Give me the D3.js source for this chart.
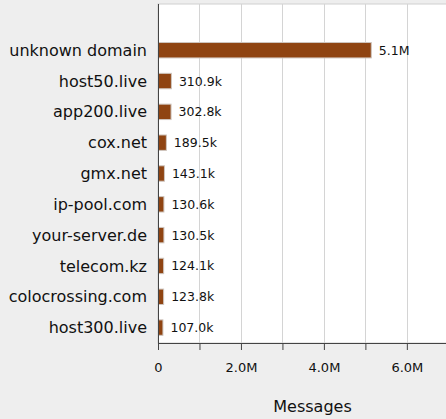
<!DOCTYPE html>
<html><head><meta charset="utf-8">
<script src="https://cdn.jsdelivr.net/npm/d3@7"></script>
<style>
html,body{margin:0;padding:0;background:#eeeeee;overflow:hidden;}
svg{display:block;font-family:"DejaVu Sans",sans-serif;}
</style></head>
<body>
<svg id="c" width="446" height="419"></svg>
<script>
const categories = ["unknown domain","host50.live","app200.live","cox.net","gmx.net","ip-pool.com","your-server.de","telecom.kz","colocrossing.com","host300.live"];
const values = [5130000,310900,302800,189500,143100,130600,130500,124100,123800,107000];
const tickValues = [0,1e6,2e6,3e6,4e6,5e6,6e6,7e6];
const tickLabels = ["0","","2.0M","","4.0M","","6.0M",""];
const axisTitle = "Messages";
const xMax = 7.45e6;

(function(){
const svg = d3.select("#c");
const pL = 158, pT = 4, pR = 467, pB = 343;
const step = (pB - pT) / (categories.length + 1);

const x = d3.scaleLinear().domain([0, xMax]).range([pL, pR]);
const y = d3.scaleBand().domain(categories).range([pT + step, pB]).paddingInner(0.5).paddingOuter(0.25);

svg.append("rect").attr("x", pL).attr("y", pT).attr("width", pR - pL).attr("height", pB - pT)
  .attr("fill", "#fff").attr("stroke", "#d0d0d0").attr("stroke-width", 1);

// grid
svg.append("g").selectAll("line").data(tickValues.slice(1)).join("line")
  .attr("x1", d => Math.round(x(d)) + 0.5).attr("x2", d => Math.round(x(d)) + 0.5)
  .attr("y1", pT).attr("y2", pB).attr("stroke", "#d4d4d4").attr("stroke-width", 1);

// bars
svg.append("g").selectAll("rect").data(values).join("rect")
  .attr("x", x(0) + 0.5)
  .attr("y", (d, i) => y(categories[i]))
  .attr("width", d => x(d) - x(0))
  .attr("height", y.bandwidth())
  .attr("fill", "#8f4412")
  .attr("stroke", "#cfc6bf").attr("stroke-width", 1);

// value labels
const fmt = v => v >= 1e6 ? (v / 1e6).toFixed(1) + "M" : (v / 1e3).toFixed(1) + "k";
svg.append("g").selectAll("text").data(values).join("text")
  .attr("x", d => x(d) + 8)
  .attr("y", (d, i) => y(categories[i]) + y.bandwidth() / 2)
  .attr("dy", "0.36em").attr("font-size", 12.5).attr("fill", "#111")
  .text(d => fmt(d));

// y axis labels
svg.append("g").selectAll("text").data(categories).join("text")
  .attr("x", pL - 11)
  .attr("y", d => y(d) + y.bandwidth() / 2)
  .attr("dy", "0.35em").attr("text-anchor", "end").attr("font-size", 16).attr("fill", "#111")
  .text(d => d);

// x axis
const xAxis = d3.axisBottom(x).tickValues(tickValues).tickSize(7).tickPadding(13)
  .tickFormat((d, i) => tickLabels[i]);
const gx = svg.append("g").attr("transform", `translate(0,${pB})`).call(xAxis);
gx.select(".domain").attr("stroke", "#444");
gx.selectAll(".tick line").attr("stroke", "#444");
gx.selectAll(".tick text").attr("font-size", 13).attr("fill", "#111").attr("font-family", "DejaVu Sans");

// left axis line
svg.append("line").attr("x1", pL + 0.5).attr("x2", pL + 0.5).attr("y1", pT).attr("y2", pB)
  .attr("stroke", "#444").attr("stroke-width", 1);

svg.append("text").attr("x", (pL + pR) / 2).attr("y", 412)
  .attr("text-anchor", "middle").attr("font-size", 16).attr("fill", "#111").text(axisTitle);
})();
</script>
</body></html>
